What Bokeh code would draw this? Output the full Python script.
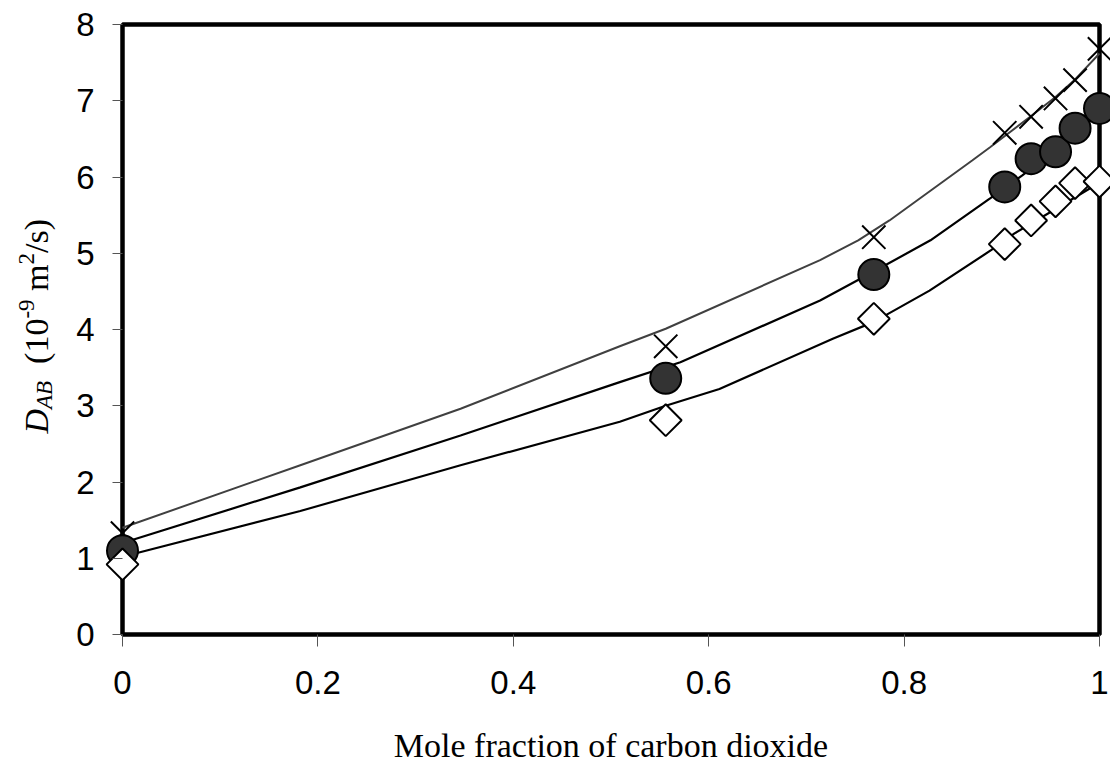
from bokeh.plotting import figure
from bokeh.models import Range1d, FixedTicker, CustomJSTickFormatter, Label
from bokeh.embed import file_html
from bokeh.resources import INLINE
import math

# ---- data ----
x_frac = [0.0, 0.556, 0.769, 0.903, 0.930, 0.955, 0.975, 1.0]
d_circle = [1.10, 3.36, 4.72, 5.87, 6.24, 6.33, 6.64, 6.90]
d_diamond = [0.92, 2.81, 4.14, 5.12, 5.43, 5.68, 5.92, 5.94]
d_cross = [1.33, 3.78, 5.21, 6.58, 6.79, 7.03, 7.27, 7.68]

curve_cross_x = [0.0, 0.182, 0.346, 0.509, 0.556, 0.714, 0.753, 0.785, 0.870, 0.888, 0.930, 0.955, 0.975, 1.0]
curve_cross_y = [1.40, 2.22, 2.96, 3.78, 4.01, 4.91, 5.17, 5.43, 6.22, 6.39, 6.80, 7.05, 7.28, 7.62]

curve_circle_x = [0.0, 0.182, 0.346, 0.509, 0.571, 0.714, 0.769, 0.827, 0.888, 0.921, 0.955, 0.975, 1.0]
curve_circle_y = [1.20, 1.93, 2.61, 3.31, 3.57, 4.38, 4.76, 5.17, 5.72, 6.02, 6.36, 6.62, 6.93]

curve_diamond_x = [0.0, 0.182, 0.346, 0.509, 0.556, 0.611, 0.727, 0.769, 0.826, 0.889, 0.913, 0.959, 0.990, 1.0]
curve_diamond_y = [1.02, 1.62, 2.22, 2.79, 3.00, 3.22, 3.88, 4.10, 4.51, 5.04, 5.26, 5.61, 5.85, 5.94]

x_ticks = [0, 0.2, 0.4, 0.6, 0.8, 1.0]
y_ticks = [0, 1, 2, 3, 4, 5, 6, 7, 8]
x_lim = (0, 1)
y_lim = (0, 8)

x_title = "Mole fraction of carbon dioxide"

# ---- layout: frame spans the whole canvas; axes sit at fixed locations ----
W, H = 1110, 767
px_left, px_right, px_top, px_bottom = 122, 1099, 24, 634
kx = (px_right - px_left) / (x_lim[1] - x_lim[0])
ky = (px_bottom - px_top) / (y_lim[1] - y_lim[0])
xr = Range1d(x_lim[0] - px_left / kx, x_lim[1] + (W - px_right) / kx)
yr = Range1d(y_lim[0] - (H - px_bottom) / ky, y_lim[1] + px_top / ky)

p = figure(width=W, height=H, output_backend="svg", toolbar_location=None,
           x_range=xr, y_range=yr,
           min_border_left=0, min_border_right=0, min_border_top=0, min_border_bottom=0)
p.background_fill_color = "white"
p.border_fill_color = "white"
p.grid.visible = False
p.outline_line_color = None

for ax in (p.xaxis[0], p.yaxis[0]):
    ax.axis_line_color = None
    ax.major_tick_in = 0
    ax.minor_tick_line_color = None
    ax.major_tick_line_color = "#555555"
    ax.major_tick_line_width = 1
    ax.major_label_text_font = "Liberation Sans"
    ax.major_label_text_font_size = "33px"
    ax.major_label_text_color = "black"

p.xaxis[0].fixed_location = y_lim[0]
p.yaxis[0].fixed_location = x_lim[0]

p.xaxis[0].ticker = FixedTicker(ticks=x_ticks)
p.xaxis[0].formatter = CustomJSTickFormatter(code="return String(Math.round(tick*10)/10)")
p.xaxis[0].major_tick_out = 12
p.xaxis[0].major_label_standoff = 24

p.yaxis[0].ticker = FixedTicker(ticks=y_ticks)
p.yaxis[0].major_tick_out = 10
p.yaxis[0].major_label_standoff = 18

# ---- plot-area border ----
p.quad(left=[x_lim[0]], right=[x_lim[1]], bottom=[y_lim[0]], top=[y_lim[1]],
       fill_color=None, line_color="black", line_width=4.5)

# ---- curves ----
p.line(curve_cross_x, curve_cross_y, line_color="#404040", line_width=2)
p.line(curve_circle_x, curve_circle_y, line_color="black", line_width=2.2)
p.line(curve_diamond_x, curve_diamond_y, line_color="black", line_width=2.2)

# ---- markers ----
p.scatter(x_frac, d_cross, marker="x", size=33, line_color="black", line_width=2)
p.scatter(x_frac, d_circle, marker="circle", size=31, fill_color="#333333", line_color="black", line_width=2)
p.scatter(x_frac, d_diamond, marker="square", size=22.5, angle=math.pi / 4,
          fill_color="white", line_color="black", line_width=2)

# ---- x title, centred under the plot area ----
p.add_layout(Label(x=(x_lim[0] + x_lim[1]) / 2, y=y_lim[0] - (745 - px_bottom) / ky, text=x_title,
                   text_font="Liberation Serif", text_font_size="34px", text_color="black",
                   text_align="center", text_baseline="middle"))

# ---- y title as rotated pieces (text, offset along, offset across, size, style) ----
ax_x = x_lim[0] - (px_left - 48) / kx
ax_y = y_lim[0] + (px_bottom - 433) / ky
pieces = [
    ("D", 0, -11.6, "34px", "italic"),
    ("AB", 24.5, -3.8, "23px", "italic"),
    ("(10", 69.6, -11.6, "34px", "normal"),
    ("-9", 114.9, -21.8, "23px", "normal"),
    ("m", 142.6, -11.6, "34px", "normal"),
    ("2", 169.1, -21.8, "23px", "normal"),
    ("/s)", 180.6, -11.6, "34px", "normal"),
]
for txt, off, xo, fs, st in pieces:
    p.add_layout(Label(x=ax_x, y=ax_y, x_offset=xo, y_offset=off, text=txt, angle=math.pi / 2,
                       text_font="Liberation Serif", text_font_size=fs, text_font_style=st,
                       text_color="black", text_align="left", text_baseline="middle"))

open("out.html", "w").write(file_html(p, INLINE))
